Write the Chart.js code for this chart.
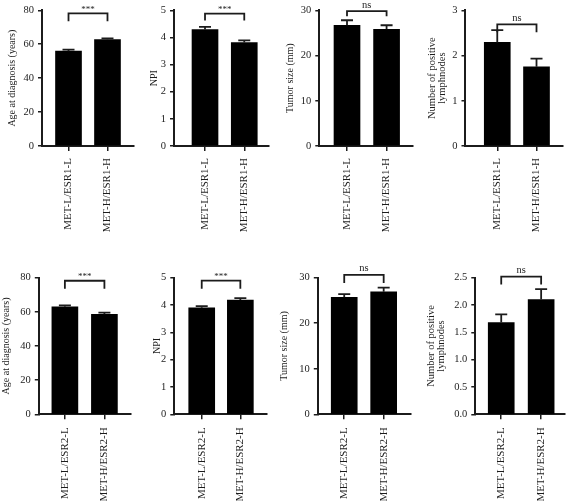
<!DOCTYPE html>
<html>
<head>
<meta charset="utf-8">
<script src="https://cdn.jsdelivr.net/npm/chart.js@4.4.0/dist/chart.umd.min.js"></script>
<style>
body { margin: 0; background: #fff; }
#wrap { position: relative; width: 568px; height: 501px; overflow: hidden; }
#wrap canvas { position: absolute; }
</style>
</head>
<body>
<div id="wrap"></div>
<script>
// groups
const groupsESR1 = ["MET-L/ESR1-L", "MET-H/ESR1-H"];
const groupsESR2 = ["MET-L/ESR2-L", "MET-H/ESR2-H"];

// ESR1 row: mean and SEM
const ageESR1 = [55.9, 62.8];
const ageESR1Err = [0.9, 0.6];
const npiESR1 = [4.29, 3.81];
const npiESR1Err = [0.10, 0.08];
const tumorESR1 = [26.7, 25.8];
const tumorESR1Err = [1.1, 0.9];
const nodesESR1 = [2.29, 1.75];
const nodesESR1Err = [0.27, 0.18];

// ESR2 row
const ageESR2 = [63.0, 58.6];
const ageESR2Err = [0.8, 0.9];
const npiESR2 = [3.90, 4.18];
const npiESR2Err = [0.06, 0.07];
const tumorESR2 = [25.7, 26.9];
const tumorESR2Err = [0.7, 0.9];
const nodesESR2 = [1.68, 2.10];
const nodesESR2Err = [0.15, 0.19];

// significance marks
const sigESR1 = ["***", "***", "ns", "ns"];
const sigESR2 = ["***", "***", "ns", "ns"];

// axis titles and y ticks
const yTitles = ["Age at diagnosis (years)", "NPI", "Tumor size (mm)", ["Number of positive", "lymphnodes"]];
const yMaxESR1 = [80, 5, 30, 3];
const yStepESR1 = [20, 1, 10, 1];
const yMaxESR2 = [80, 5, 30, 2.5];
const yStepESR2 = [20, 1, 10, 0.5];

const panels = [
  { labels: groupsESR1, vals: ageESR1, errs: ageESR1Err, title: yTitles[0], max: yMaxESR1[0], step: yStepESR1[0], sig: sigESR1[0],
    row: 0, titleX: 12, axisX: 42, axisEnd: 134, xmin: -0.68, xmax: 1.68, brY: 78.2, leg: 8 },
  { labels: groupsESR1, vals: npiESR1, errs: npiESR1Err, title: yTitles[1], max: yMaxESR1[1], step: yStepESR1[1], sig: sigESR1[1],
    row: 0, titleX: 153.7, axisX: 173.7, axisEnd: 268.7, xmin: -0.79, xmax: 1.63, brY: 4.88, leg: 7 },
  { labels: groupsESR1, vals: tumorESR1, errs: tumorESR1Err, title: yTitles[2], max: yMaxESR1[2], step: yStepESR1[2], sig: sigESR1[2],
    row: 0, titleX: 289.7, axisX: 319, axisEnd: 412, xmin: -0.70, xmax: 1.65, brY: 29.8, leg: 5 },
  { labels: groupsESR1, vals: nodesESR1, errs: nodesESR1Err, title: yTitles[3], max: yMaxESR1[3], step: yStepESR1[3], sig: sigESR1[3],
    row: 0, titleX: 431.5, axisX: 465, axisEnd: 562.7, xmin: -0.81, xmax: 1.68, brY: 2.69, leg: 8 },
  { labels: groupsESR2, vals: ageESR2, errs: ageESR2Err, title: yTitles[0], max: yMaxESR2[0], step: yStepESR2[0], sig: sigESR2[0],
    row: 1, titleX: 5.5, axisX: 38.3, axisEnd: 130, xmin: -0.66, xmax: 1.66, brY: 78.2, leg: 8 },
  { labels: groupsESR2, vals: npiESR2, errs: npiESR2Err, title: yTitles[1], max: yMaxESR2[1], step: yStepESR2[1], sig: sigESR2[1],
    row: 1, titleX: 157, axisX: 174.3, axisEnd: 267, xmin: -0.71, xmax: 1.69, brY: 4.89, leg: 8 },
  { labels: groupsESR2, vals: tumorESR2, errs: tumorESR2Err, title: yTitles[2], max: yMaxESR2[2], step: yStepESR2[2], sig: sigESR2[2],
    row: 1, titleX: 283.5, axisX: 317.3, axisEnd: 410, xmin: -0.67, xmax: 1.68, brY: 30.6, leg: 8 },
  { labels: groupsESR2, vals: nodesESR2, errs: nodesESR2Err, title: yTitles[3], max: yMaxESR2[3], step: yStepESR2[3], sig: sigESR2[3],
    row: 1, titleX: 431, axisX: 475.3, axisEnd: 564.3, xmin: -0.65, xmax: 1.58, brY: 2.52, leg: 8 },
];

const rows = [
  { top: 0, height: 240, areaTop: 10, areaBottom: 146, labelPad: 7 },
  { top: 240, height: 261, areaTop: 277.7, areaBottom: 414.3, labelPad: 8 },
];

const ink = "#1c1c1c";
const serif = "'Liberation Serif', 'Times New Roman', serif";

const errBars = {
  id: "errBars",
  afterDatasetsDraw(chart, args, opts) {
    const p = opts.panel;
    if (!p) return;
    const ctx = chart.ctx;
    const xs = chart.scales.x;
    const ys = chart.scales.y;
    const cx = [0, 1].map(i => xs.getPixelForValue(i));
    ctx.save();
    ctx.strokeStyle = ink;
    ctx.lineWidth = 1.8;
    p.vals.forEach((v, i) => {
      const yBar = ys.getPixelForValue(v);
      const yTop = ys.getPixelForValue(v + p.errs[i]);
      ctx.beginPath();
      ctx.moveTo(cx[i], yBar);
      ctx.lineTo(cx[i], yTop);
      ctx.moveTo(cx[i] - 6, yTop);
      ctx.lineTo(cx[i] + 6, yTop);
      ctx.stroke();
    });
    // bracket
    const by = ys.getPixelForValue(p.brY);
    ctx.beginPath();
    ctx.moveTo(cx[0], by + p.leg);
    ctx.lineTo(cx[0], by);
    ctx.lineTo(cx[1], by);
    ctx.lineTo(cx[1], by + p.leg);
    ctx.stroke();
    ctx.fillStyle = ink;
    ctx.textAlign = "center";
    ctx.textBaseline = "alphabetic";
    if (p.sig === "ns") {
      ctx.font = "10.5px " + serif;
      ctx.fillText(p.sig, (cx[0] + cx[1]) / 2, by - 3.5);
    } else {
      ctx.font = "9px " + serif;
      ctx.fillText(p.sig, (cx[0] + cx[1]) / 2, by - 1.5);
    }
    ctx.restore();
  }
};

const wrap = document.getElementById("wrap");

panels.forEach(p => {
  const r = rows[p.row];
  const multi = Array.isArray(p.title);
  const tFont = multi ? { family: serif, size: 10.5, lineHeight: 0.95 } : { family: serif, size: 10, lineHeight: 1.2 };
  const half = multi ? 10.5 * 0.95 / 2 : 10 * 1.2 / 2;
  const left = p.titleX - half;
  const width = Math.ceil(p.axisEnd + 3 - left);
  const cv = document.createElement("canvas");
  cv.width = width;
  cv.height = r.height;
  cv.style.left = left + "px";
  cv.style.top = r.top + "px";
  cv.style.width = width + "px";
  cv.style.height = r.height + "px";
  wrap.appendChild(cv);

  const yW = p.axisX - left;
  const xH = r.top + r.height - r.areaBottom;

  new Chart(cv, {
    type: "bar",
    data: {
      datasets: [{
        data: p.vals.map((v, i) => ({ x: i, y: v })),
        backgroundColor: "#000",
        borderWidth: 0,
        barThickness: 26,
      }],
    },
    options: {
      responsive: false,
      animation: false,
      events: [],
      layout: { padding: { top: r.areaTop - r.top, right: width - (p.axisEnd - left), bottom: 0, left: 0 } },
      plugins: { legend: { display: false }, tooltip: { enabled: false }, errBars: { panel: p } },
      scales: {
        x: {
          type: "linear",
          offset: false,
          min: p.xmin,
          max: p.xmax,
          afterBuildTicks: s => { s.ticks = [{ value: 0 }, { value: 1 }]; },
          afterFit: s => { s.height = xH; },
          border: { color: ink, width: 2 },
          grid: { offset: false, drawOnChartArea: false, drawTicks: true, tickLength: 5, color: ink, lineWidth: 1.5 },
          ticks: {
            autoSkip: false,
            minRotation: 90,
            maxRotation: 90,
            padding: r.labelPad,
            color: ink,
            font: { family: serif, size: 11 },
            callback: v => p.labels[v],
          },
        },
        y: {
          min: 0,
          max: p.max,
          afterFit: s => { s.width = yW; },
          border: { color: ink, width: 2 },
          grid: { drawOnChartArea: false, drawTicks: true, tickLength: 4, color: ink, lineWidth: 1.5 },
          ticks: {
            stepSize: p.step,
            padding: 4,
            color: ink,
            font: { family: serif, size: 10.5 },
            callback: v => p.step < 1 ? v.toFixed(1) : v,
          },
          title: {
            display: true,
            text: p.title,
            color: ink,
            font: tFont,
            padding: { top: 0, bottom: 0 },
          },
        },
      },
    },
    plugins: [errBars],
  });
});
</script>
</body>
</html>
